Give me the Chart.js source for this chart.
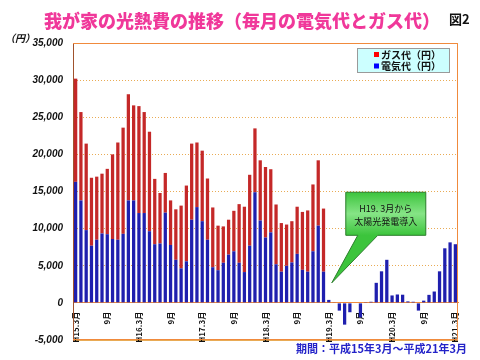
<!DOCTYPE html>
<html lang="ja">
<head>
<meta charset="utf-8">
<title>我が家の光熱費の推移</title>
<script src="https://cdn.jsdelivr.net/npm/chart.js@4.4.1/dist/chart.umd.min.js"></script>
<style>
  html, body { margin: 0; padding: 0; background: #fff; }
  #wrap { position: relative; width: 480px; height: 360px; }
</style>
</head>
<body>
<div id="wrap"><canvas id="costChart"></canvas></div>
<script>
// Months from H15.3 to H21.3 (73 months)
const months = [];
for (let i = 0; i < 73; i++) {
    const m = (i + 2) % 12 + 1;
    const y = 15 + Math.floor((i + 2) / 12);
    months.push('H' + y + '.' + m);
}

// Only every 6th month gets a label
const tickLabels = ['H15.3月', '9月', 'H16.3月', '9月', 'H17.3月', '9月', 'H18.3月',
    '9月', 'H19.3月', '9月', 'H20.3月', '9月', 'H21.3月'];

// 電気代 (yen) - goes negative after solar panels from H19.3
const electricity = [
    16300, 13800, 9800, 7700, 8500, 9350, 9250, 8600, 8500, 9300, 13800, 13800,
    12100, 12100, 9650, 7900, 8000, 12150, 7800, 5800, 4650, 5600, 11200, 12900,
    11000, 8500, 4800, 4400, 5400, 6500, 6950, 5400, 4150, 7700, 14900, 11100,
    8800, 9500, 5200, 4200, 5000, 5450, 6600, 4450, 4200, 6950, 10400, 4200,
    400, 50, -1040, -2930, -1260, 0, -1950, 100, 150, 2700, 4250, 5800,
    1000, 1130, 1100, 200, 150, -1040, 300, 1080, 1530, 4250, 7350, 8150,
    7900
];

// ガス代 (yen) - none after H19.3
const gas = [
    13900, 11900, 11650, 9150, 8500, 8050, 8800, 11400, 13100, 14300, 14300, 12800,
    14400, 13600, 13400, 8800, 6800, 5350, 6000, 6800, 8450, 10200, 10250, 8700,
    9500, 8250, 8050, 6000, 4900, 4700, 5450, 7900, 8800, 9550, 8600, 8100,
    9500, 8500, 8050, 6550, 5550, 5550, 6350, 7800, 8250, 9000, 8800, 8500,
    0, 0, 0, 0, 0, 0, 0, 0, 0, 0, 0, 0,
    0, 0, 0, 0, 0, 0, 0, 0, 0, 0, 0, 0,
    0
];

const jp = '"Noto Sans CJK JP", sans-serif';
const orange = '#f08a3c';
const red = '#c42828';
const blue = '#1f1fae';

// Extra drawing: plot frame, legend box, callout and loose texts
const decor = {
    id: 'decor',
    beforeDatasetsDraw(chart) {
        const { ctx, chartArea: a } = chart;
        ctx.save();
        ctx.strokeStyle = orange;
        ctx.lineWidth = 1;
        ctx.beginPath();
        ctx.moveTo(a.left, a.top + 0.5);
        ctx.lineTo(a.right - 0.5, a.top + 0.5);
        ctx.lineTo(a.right - 0.5, a.bottom - 0.5);
        ctx.lineTo(a.left, a.bottom - 0.5);
        ctx.stroke();
        ctx.restore();
    },
    afterDatasetsDraw(chart) {
        const { ctx, chartArea: a } = chart;
        const xs = chart.scales.x, ys = chart.scales.y;
        ctx.save();

        // callout pointing at H19.3
        const tipX = xs.getPixelForValue(48) + 3;
        const tipY = ys.getPixelForValue(2700);
        const left = tipX + 14, right = tipX + 94;
        const top = ys.getPixelForValue(14900), bottom = ys.getPixelForValue(9100);
        const g = ctx.createLinearGradient(0, top, 0, bottom);
        g.addColorStop(0, '#3cc43c');
        g.addColorStop(0.5, '#86e486');
        g.addColorStop(1, '#3cc43c');
        ctx.beginPath();
        ctx.moveTo(left, top);
        ctx.lineTo(right, top);
        ctx.lineTo(right, bottom);
        ctx.lineTo(tipX + 46, bottom);
        ctx.lineTo(tipX, tipY);
        ctx.lineTo(tipX + 26, bottom);
        ctx.lineTo(left, bottom);
        ctx.closePath();
        ctx.fillStyle = g;
        ctx.fill();
        ctx.strokeStyle = '#2b7d2b';
        ctx.lineWidth = 1;
        ctx.stroke();
        ctx.fillStyle = '#111';
        ctx.font = '9px ' + jp;
        ctx.textAlign = 'center';
        ctx.textBaseline = 'middle';
        const cx = (left + right) / 2;
        ctx.fillText('H19. 3月から', cx, top + 16);
        ctx.fillText('太陽光発電導入', cx, top + 29);

        // legend box
        const lx = a.right - 101, ly = a.top + 5;
        ctx.fillStyle = '#ccffff';
        ctx.fillRect(lx, ly, 92, 24);
        ctx.strokeStyle = '#9a9a9a';
        ctx.strokeRect(lx + 0.5, ly + 0.5, 92, 24);
        ctx.font = 'bold 10px ' + jp;
        ctx.textAlign = 'left';
        const items = chart.data.datasets.slice().reverse();
        items.forEach((ds, i) => {
            const ry = ly + 6.5 + i * 11.5;
            ctx.fillStyle = ds.backgroundColor === blue ? '#0000ff' : '#ff0000';
            ctx.fillRect(lx + 17, ry - 2.5, 5, 5);
            ctx.fillStyle = '#111';
            ctx.fillText(ds.label, lx + 24, ry + 0.5);
        });
        ctx.restore();
    },
    afterDraw(chart) {
        const { ctx, chartArea: a } = chart;
        ctx.save();
        ctx.textBaseline = 'middle';
        ctx.fillStyle = '#111';
        ctx.font = 'bold 13px ' + jp;
        ctx.textAlign = 'left';
        ctx.fillText('図2', 449, 19);
        ctx.font = 'italic bold 10px ' + jp;
        ctx.fillText('（円）', 5, 38);
        ctx.fillStyle = '#2323c8';
        ctx.font = 'bold 11px ' + jp;
        ctx.textAlign = 'right';
        ctx.fillText('期間：平成15年3月～平成21年3月', 467, a.bottom + 9);
        ctx.restore();
    }
};

const canvas = document.getElementById('costChart');
new Chart(canvas.getContext('2d'), {
    type: 'bar',
    data: {
        labels: months,
        datasets: [
            {
                label: '電気代（円）',
                data: electricity,
                backgroundColor: blue,
                barPercentage: 0.62,
                categoryPercentage: 1
            },
            {
                label: 'ガス代（円）',
                data: gas,
                backgroundColor: red,
                barPercentage: 0.62,
                categoryPercentage: 1
            }
        ]
    },
    options: {
        responsive: true,
        maintainAspectRatio: false,
        animation: false,
        layout: { padding: { left: 26, right: 22, top: 0, bottom: 20 } },
        scales: {
            x: {
                stacked: true,
                position: { y: 0 }, // axis sits on the zero line
                grid: { display: false, drawTicks: false },
                border: { color: orange, width: 1 },
                ticks: {
                    autoSkip: false,
                    minRotation: 90,
                    maxRotation: 90,
                    padding: 9,
                    color: '#111',
                    font: { family: jp, size: 8, weight: 'bold' },
                    callback: (val, i) => (i % 6 === 0 ? tickLabels[i / 6] : '')
                },
                afterFit: s => { s.height = 0; }
            },
            y: {
                stacked: true,
                min: -5000,
                max: 35000,
                ticks: {
                    stepSize: 5000,
                    padding: 10,
                    color: '#111',
                    font: { family: '"Liberation Sans", Arial', size: 10, style: 'italic', weight: 'bold' },
                    callback: v => v.toLocaleString('en-US')
                },
                grid: { color: '#e9ab55', drawTicks: false },
                border: {
                    color: '#a0522d',
                    dash: c => (c.tick && (c.tick.value === 0 || c.tick.value === -5000 || c.tick.value === 35000) ? [] : [1, 2])
                },
                afterFit: s => { s.width = 47; }
            }
        },
        plugins: {
            legend: { display: false },
            tooltip: { enabled: false },
            title: {
                display: true,
                text: '我が家の光熱費の推移（毎月の電気代とガス代）',
                color: '#f0389a',
                font: { family: jp, size: 18, weight: '900', lineHeight: 1.2 },
                padding: { top: 10, bottom: 11.4 }
            }
        }
    },
    plugins: [decor]
});
</script>
</body>
</html>
